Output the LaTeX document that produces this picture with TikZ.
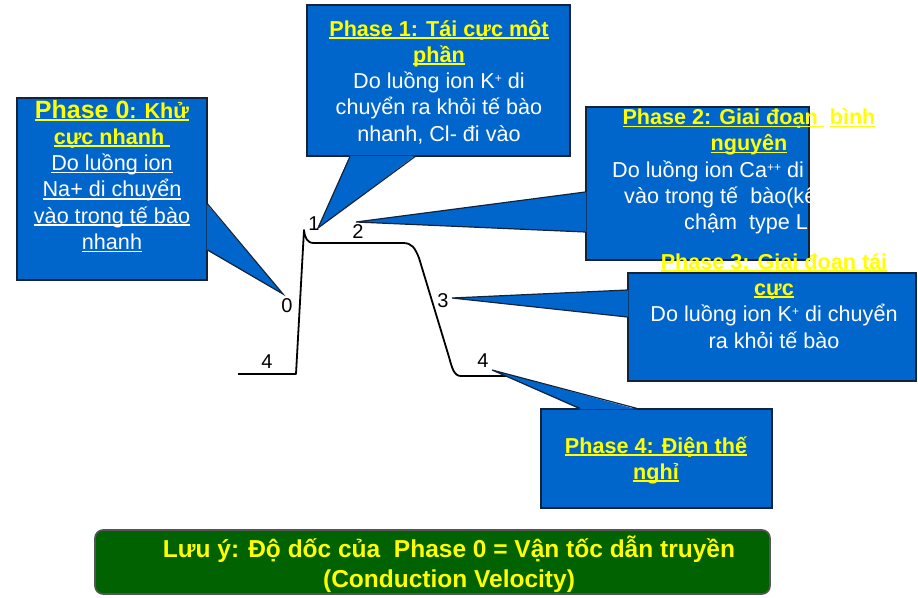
\documentclass[tikz,border=0pt]{standalone}
\usepackage{fontspec}
\setmainfont{Liberation Sans}
\usetikzlibrary{positioning}

\definecolor{phaseblue}{RGB}{0,102,204}
\definecolor{boxedge}{RGB}{20,35,60}
\definecolor{notegreen}{RGB}{0,98,0}
\definecolor{hiyellow}{RGB}{255,255,0}

\newsavebox\undlbox
\newcommand{\undl}[1]{\leavevmode\sbox\undlbox{#1}\rlap{\rule[-2.6pt]{\wd\undlbox}{1.6pt}}\usebox\undlbox}
\newcommand{\hd}[1]{\textcolor{hiyellow}{\bfseries\undl{#1}}}
\newcommand{\ionsup}[1]{\raisebox{6pt}{\fontsize{12}{12}\selectfont #1}}

\begin{document}
\begin{tikzpicture}[x=1pt,y=-1pt,
  phasebox/.style={draw=boxedge,line width=1.2pt,fill=phaseblue,inner sep=0pt},
  phasetail/.style={fill=phaseblue},
  tailedge/.style={draw=boxedge,line width=1.2pt,line join=miter},
  phasetext/.style={text=white,align=center,inner sep=0pt,anchor=base,
    font=\fontsize{21.6}{26.3}\selectfont},
  stagelabel/.style={inner sep=0pt,anchor=base,font=\fontsize{20}{24}\selectfont}]
  \useasboundingbox (0,0) rectangle (918,597);

  \draw[line width=1.8pt,line join=round]
    (238,374) -- (296,374) -- (304,230)
    .. controls (305,238) and (307,243) .. (314,243) -- (403,243)
    .. controls (412,243) and (415,248) .. (419,258) -- (449,357)
    .. controls (452,368) and (454,376) .. (461,376) -- (508,376);

  \node[stagelabel] (s4a) at (267,368) {4};
  \node[stagelabel] (s0) at (287,312) {0};
  \node[stagelabel] (s1) at (314,230) {1};
  \node[stagelabel] (s2) at (358,238) {2};
  \node[stagelabel] (s3) at (443,307) {3};
  \node[stagelabel] (s4b) at (483,367) {4};

  \coordinate (tip0) at (283,294);
  \coordinate (tip1) at (318,228);
  \coordinate (tip2) at (356,222);
  \coordinate (tip3) at (452,298);
  \coordinate (tip4) at (492,370);

  \node[phasebox,minimum width=190,minimum height=182] (p0box) at (112,189) {};
  \fill[phasetail] ([yshift=-15pt,xshift=-1pt]p0box.east) -- (tip0) -- ([yshift=-61pt,xshift=-1pt]p0box.east) -- cycle;
  \draw[tailedge] ([yshift=-15pt]p0box.east) -- (tip0) -- ([yshift=-61pt]p0box.east);
  \node[phasetext] (p0text) at (112,249.5)
    {\hd{{\fontsize{25}{26}\selectfont Phase 0}: Khử}\\
     \hd{cực nhanh\ }\\
     \undl{Do luồng ion}\\
     \undl{Na+ di chuyển}\\
     \undl{vào trong tế bào}\\
     \undl{nhanh}};

  \node[phasebox,minimum width=263,minimum height=151] (p1box) at (438.5,80.5) {};
  \fill[phasetail] ([xshift=-88.5pt,yshift=1pt]p1box.south) -- (tip1) -- ([xshift=-23.5pt,yshift=1pt]p1box.south) -- cycle;
  \draw[tailedge] ([xshift=-88.5pt]p1box.south) -- (tip1) -- ([xshift=-23.5pt]p1box.south);
  \node[phasetext] (p1text) at (439,141.2)
    {\hd{Phase 1: Tái cực một}\\
     \hd{phần}\\
     Do luồng ion K\ionsup{+} di\\
     chuyển ra khỏi tế bào\\
     nhanh, Cl- đi vào};

  \node[phasebox,minimum width=223,minimum height=153] (p2box) at (697.5,183.5) {};
  \fill[phasetail] ([yshift=-8.5pt,xshift=1pt]p2box.west) -- (tip2) -- ([yshift=-48.5pt,xshift=1pt]p2box.west) -- cycle;
  \draw[tailedge] ([yshift=-8.5pt]p2box.west) -- (tip2) -- ([yshift=-48.5pt]p2box.west);
  \begin{scope}
    \clip (p2box.south west) rectangle (p2box.north east);
    \node[phasetext,anchor=base west] (p2line1) at (612,177) {Do luồng ion Ca\ionsup{++} di};
    \node[phasetext,anchor=base west] (p2line2) at (624,203.3) {vào trong tế\ \ bào(kê};
    \node[phasetext,anchor=base west] (p2line3) at (684,229.6) {chậm\ \ type L};
  \end{scope}
  \node[phasetext] (p2head) at (749,150.8)
    {\hd{Phase 2: Giai đoạn\ }\ \hd{bình}\\
     \hd{nguyên}};

  \node[phasebox,minimum width=288,minimum height=108] (p3box) at (772,327) {};
  \fill[phasetail] ([yshift=37pt,xshift=1pt]p3box.west) -- (tip3) -- ([yshift=10pt,xshift=1pt]p3box.west) -- cycle;
  \draw[tailedge] ([yshift=37pt]p3box.west) -- (tip3) -- ([yshift=10pt]p3box.west);
  \node[phasetext] (p3text) at (774,348)
    {\hd{Phase 3: Giai đoan tái}\\
     \hd{cực}\\
     Do luồng ion K\ionsup{+} di chuyển\\
     ra khỏi tế bào};

  \node[phasebox,minimum width=231,minimum height=99] (p4box) at (656.5,458.5) {};
  \fill[phasetail] ([xshift=-76.5pt,yshift=-1pt]p4box.north) -- (tip4) -- ([xshift=-19.5pt,yshift=-1pt]p4box.north) -- cycle;
  \draw[tailedge] ([xshift=-76.5pt]p4box.north) -- (tip4) -- ([xshift=-19.5pt]p4box.north);
  \node[phasetext] (p4text) at (656,479.3)
    {\hd{Phase 4: Điện thế}\\
     \hd{nghỉ}};

  \node[draw={rgb,255:red,85;green,85;blue,85},line width=1.6pt,fill=notegreen,
    rounded corners=8pt,minimum width=675,minimum height=64,inner sep=0pt] (note) at (432.5,562) {};
  \node[text=hiyellow,align=center,inner sep=0pt,anchor=base,
    font=\bfseries\fontsize{24.5}{30}\selectfont] (notetext) at (449,587)
    {Lưu ý: Độ dốc của\ \ Phase 0 = Vận tốc dẫn truyền\\
     (Conduction Velocity)};
\end{tikzpicture}
\end{document}
